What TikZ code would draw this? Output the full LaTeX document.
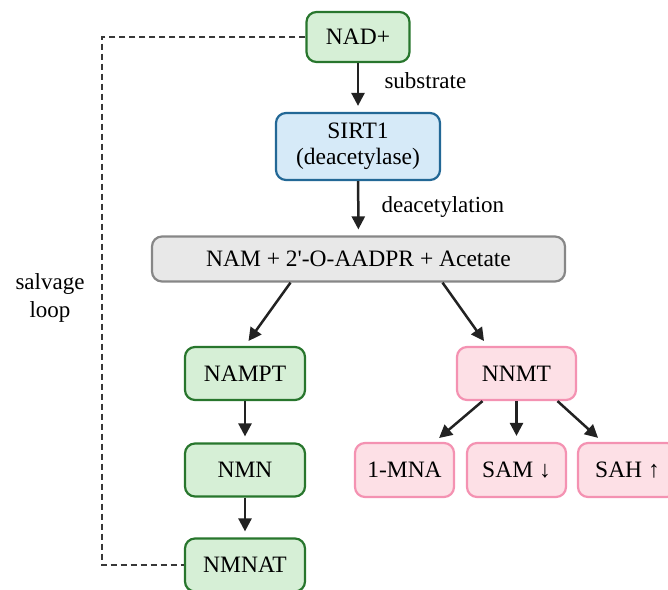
\documentclass[tikz,border=0pt]{standalone}
\usepackage{fontspec}
\setmainfont{Liberation Serif}
\usepackage{tikz}
\usetikzlibrary{arrows.meta, positioning}
\definecolor{nadgreen}{RGB}{40,118,45}
\definecolor{nadgreenfill}{RGB}{214,239,214}
\definecolor{sirtblue}{RGB}{35,104,150}
\definecolor{sirtbluefill}{RGB}{214,234,248}
\definecolor{namgray}{RGB}{135,135,135}
\definecolor{namgrayfill}{RGB}{232,232,232}
\definecolor{nnmtpink}{RGB}{244,146,178}
\definecolor{nnmtpinkfill}{RGB}{253,224,230}
\definecolor{arrowgray}{RGB}{34,34,34}

\begin{document}
\begin{tikzpicture}[
    x=1pt, y=-1pt,
    box/.style={rectangle, rounded corners=10pt, line width=2.2pt, inner sep=0pt, font=\fontsize{23.5}{26}\selectfont, align=center},
    salvage/.style={box, draw=nadgreen, fill=nadgreenfill, minimum width=120pt, minimum height=53pt},
    enzyme/.style={box, draw=sirtblue, fill=sirtbluefill, minimum width=164pt, minimum height=67pt},
    product/.style={box, draw=namgray, fill=namgrayfill, minimum width=413pt, minimum height=45pt},
    methyl/.style={box, draw=nnmtpink, fill=nnmtpinkfill, minimum height=54pt},
    label/.style={font=\fontsize{23}{28}\selectfont},
    arrow/.style={-{Triangle[length=13pt, width=13pt]}, line width=2.5pt, draw=arrowgray, shorten >=6pt},
    loopline/.style={line width=2.5pt, draw=arrowgray!90, dash pattern=on 6pt off 4pt}
]
    \useasboundingbox (0,0) rectangle (668,589);

    % NAD+ and SIRT1
    \node[salvage, minimum width=103pt, minimum height=50pt] (nad) at (358,37) {NAD+};
    \node[enzyme] (sirt) at (358,146.5) {SIRT1\\(deacetylase)};
    \node[product] (nam) at (358.5,259) {NAM + 2\textquotesingle-O-AADPR + Acetate};

    % Salvage branch
    \node[salvage] (nampt) at (245,373.5) {NAMPT};
    \node[salvage] (nmn) at (245,470) {NMN};
    \node[salvage] (nmnat) at (245,565) {NMNAT};

    % Methylation branch
    \node[methyl, minimum width=119pt, minimum height=53pt] (nnmt) at (516.5,373.5) {NNMT};
    \node[methyl, minimum width=99pt] (mna) at (404.5,470) {1-MNA};
    \node[methyl, minimum width=99pt] (sam) at (516.5,470) {SAM ↓};
    \node[methyl, minimum width=99pt] (sah) at (627.5,470) {SAH ↑};

    % Arrows
    \draw[arrow] (nad) -- (sirt);
    \draw[arrow] (sirt) -- (nam);
    \draw[arrow] ([xshift=-68pt]nam.south) -- (nampt.north);
    \draw[arrow] ([xshift=84pt]nam.south) -- ([xshift=-29pt]nnmt.north);
    \draw[arrow] (nampt) -- (nmn);
    \draw[arrow] (nmn) -- (nmnat);
    \draw[arrow] ([xshift=-34pt]nnmt.south) -- ([xshift=30pt]mna.north);
    \draw[arrow] (nnmt) -- (sam);
    \draw[arrow] ([xshift=41pt]nnmt.south) -- ([xshift=-25pt]sah.north);

    % Labels
    \node[label, anchor=base west] (substr) at (381,88) {substrate};
    \node[label, anchor=base west] (deacet) at (378,212) {deacetylation};

    % Salvage loop
    \coordinate (loopcorner) at (102,37);
    \draw[loopline] (nad.west) -- (loopcorner) |- (nmnat.west);
    \node[label, align=center] (looplabel) at (50,298) {salvage\\loop};
\end{tikzpicture}
\end{document}
